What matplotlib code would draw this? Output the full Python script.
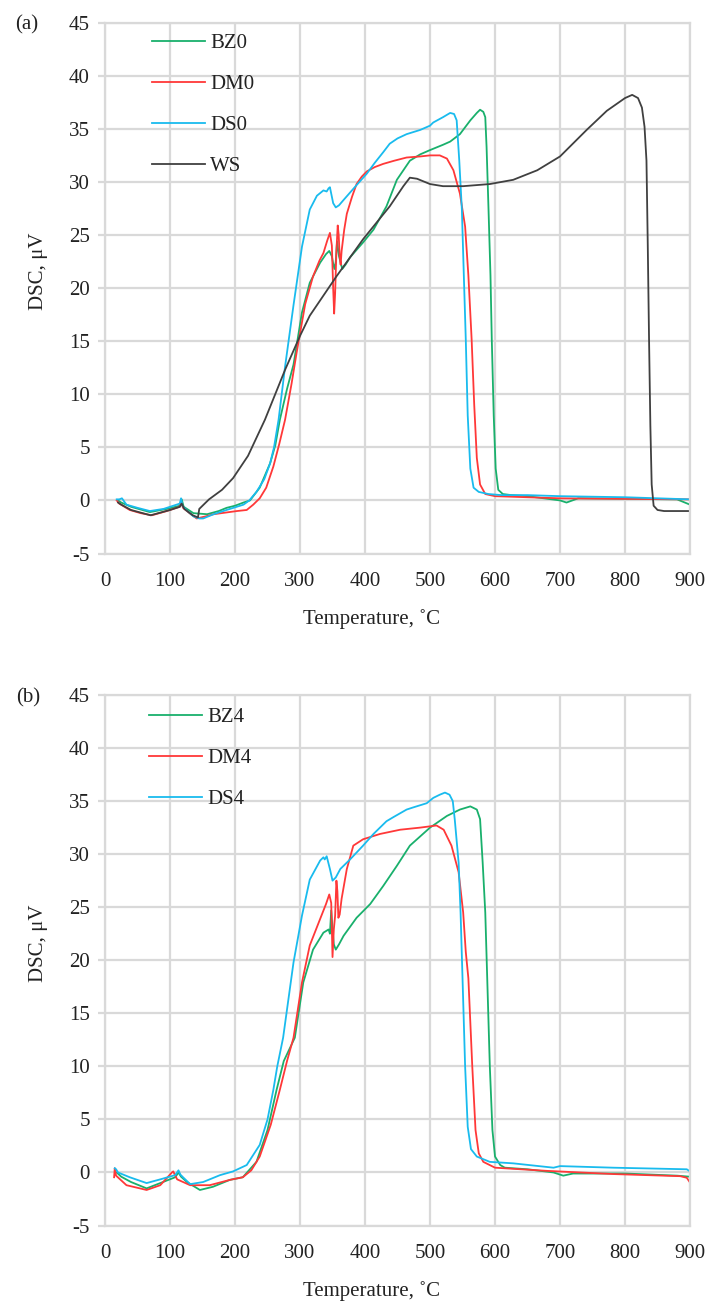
import matplotlib
matplotlib.use("Agg")
import matplotlib.pyplot as plt

plt.rcParams['font.family'] = ['Liberation Serif', 'DejaVu Serif']
plt.rcParams['axes.unicode_minus'] = False

# ---------------- data: panel (a) ----------------
BZ0_x = [20, 25, 40, 69, 95, 115, 118, 121, 136, 157, 175, 187, 200, 213, 223, 238, 254, 262, 269, 280,
         290, 303, 315, 331, 340, 345, 349, 351, 353, 355, 357, 360, 365, 370, 377, 387, 397, 413, 433, 449,
         469, 485, 500, 520, 531, 546, 562, 572, 577, 582, 585, 587, 590, 593, 595, 598, 601, 605, 612, 625,
         650, 700, 710, 728, 800, 880, 900]
BZ0_y = [0.0, -0.2, -0.6, -1.1, -0.8, -0.5, 0.1, -0.6, -1.2, -1.3, -1.0, -0.7, -0.5, -0.2, 0.0, 1.2, 3.5, 5.2, 7.6, 10.5,
         12.8, 17.7, 20.5, 22.4, 23.2, 23.5, 23.0, 22.3, 21.8, 22.5, 24.4, 23.0, 21.8, 22.2, 22.9, 23.6, 24.3, 25.5, 27.7, 30.2,
         32.0, 32.6, 33.0, 33.5, 33.8, 34.5, 35.8, 36.5, 36.8, 36.6, 36.1, 33.3, 27.4, 21.2, 15.2, 8.0, 3.0, 1.0, 0.6, 0.5,
         0.4, 0.0, -0.2, 0.2, 0.15, 0.1, -0.4]

DM0_x = [18, 22, 38, 55, 72, 95, 115, 117, 120, 130, 141, 155, 167, 185, 203, 218, 228, 238, 248, 259,
         268, 277, 287, 295, 308, 320, 330, 336, 342, 346, 349, 351, 352.5, 354, 356, 358, 359.5, 361, 362.5, 364,
         368, 372, 380, 387, 395, 403, 415, 428, 445, 464, 485, 500, 515, 526, 536, 546, 554, 559, 564, 568,
         572, 577, 585, 600, 650, 700, 800, 900]
DM0_y = [0.0, -0.3, -0.9, -1.2, -1.4, -1.0, -0.6, -0.1, -0.7, -1.2, -1.7, -1.5, -1.3, -1.15, -1.0, -0.9, -0.4, 0.2, 1.2, 3.2,
         5.3, 7.6, 11.0, 14.0, 18.5, 21.1, 22.6, 23.3, 24.5, 25.2, 24.0, 20.0, 17.6, 19.5, 23.5, 25.9, 25.0, 23.0, 22.2, 23.5,
         25.5, 27.0, 28.6, 29.8, 30.5, 31.0, 31.4, 31.7, 32.0, 32.3, 32.4, 32.5, 32.5, 32.2, 31.1, 28.9, 25.8, 21.2, 15.2, 9.0,
         4.0, 1.5, 0.6, 0.4, 0.3, 0.2, 0.15, 0.1]

DS0_x = [18, 22, 26, 33, 50, 69, 90, 115, 117, 119, 125, 136, 145, 151, 167, 187, 213, 222, 233, 245,
         254, 260, 267, 277, 290, 303, 315, 326, 336, 341, 344, 346, 349, 351, 355, 360, 367, 377, 387, 403,
         415, 428, 438, 450, 464, 485, 500, 505, 520, 531, 537, 541, 545, 549, 552, 555, 558, 562, 567, 575,
         590, 610, 650, 700, 750, 800, 850, 900]
DS0_y = [0.1, 0.1, 0.2, -0.4, -0.7, -1.0, -0.8, -0.3, 0.2, -0.5, -0.9, -1.5, -1.7, -1.7, -1.3, -0.9, -0.4, 0.0, 0.8, 2.0,
         3.5, 5.0, 7.6, 12.6, 18.4, 23.9, 27.4, 28.7, 29.2, 29.1, 29.4, 29.5, 28.6, 28.0, 27.6, 27.8, 28.3, 29.0, 29.7, 30.8,
         31.8, 32.8, 33.6, 34.1, 34.5, 34.9, 35.3, 35.6, 36.1, 36.5, 36.4, 35.8, 32.0, 27.4, 21.2, 15.2, 8.0, 3.0, 1.2, 0.8,
         0.6, 0.5, 0.5, 0.4, 0.35, 0.3, 0.2, 0.1]

WS_x = [20, 25, 40, 70, 100, 115, 118, 122, 135, 143, 145, 160, 180, 197, 220, 246, 277, 300, 315, 356,
        397, 438, 459, 469, 480, 500, 520, 551, 592, 628, 665, 700, 741, 772, 800, 811, 820, 826, 830, 833,
        835, 837, 839, 841, 844, 850, 860, 900]
WS_y = [-0.2, -0.4, -0.9, -1.4, -0.9, -0.6, -0.3, -0.8, -1.4, -1.6, -0.8, 0.1, 1.0, 2.1, 4.2, 7.6, 12.3, 15.5, 17.4, 21.1,
        24.6, 27.7, 29.6, 30.4, 30.3, 29.8, 29.6, 29.6, 29.8, 30.2, 31.1, 32.4, 34.9, 36.7, 37.9, 38.2, 37.9, 37.0, 35.2, 32.0,
        24.0, 15.0, 7.0, 1.5, -0.5, -0.9, -1.0, -1.0]

# ---------------- data: panel (b) ----------------
BZ4_x = [18, 25, 40, 64, 85, 108, 113, 117, 126, 146, 166, 192, 212, 233, 250, 264, 275, 292, 305, 320,
         336, 344, 346, 348, 350, 352, 355, 360, 367, 387, 408, 428, 449, 469, 500, 526, 546, 562, 572, 577,
         581, 585, 588, 592, 596, 600, 608, 615, 650, 690, 705, 720, 800, 880, 900]
BZ4_y = [0.0, -0.4, -0.9, -1.5, -1.0, -0.45, 0.0, -0.4, -0.9, -1.65, -1.35, -0.7, -0.45, 1.0, 4.0, 7.8, 10.5, 12.7, 17.9, 21.0,
         22.6, 22.9, 22.5, 24.7, 23.0, 21.5, 21.0, 21.5, 22.3, 24.0, 25.3, 27.0, 28.9, 30.8, 32.5, 33.6, 34.2, 34.5, 34.2, 33.3,
         29.2, 24.5, 18.3, 10.0, 4.0, 1.5, 0.7, 0.45, 0.3, 0.0, -0.3, -0.1, -0.1, -0.3, -0.4]

DM4_x = [14, 15, 17, 33, 64, 85, 103, 105, 108, 111, 131, 161, 192, 212, 225, 238, 255, 269, 280, 290,
         303, 315, 331, 340, 345, 348, 350, 352, 354, 356, 357.5, 359, 361, 364, 368, 372, 382, 397, 423, 454,
         485, 510, 521, 533, 544, 551, 555, 559, 565, 570, 575, 582, 600, 680, 782, 885, 895, 900]
DM4_y = [-0.45, 0.4, -0.3, -1.2, -1.65, -1.2, 0.0, 0.1, -0.3, -0.65, -1.2, -1.2, -0.7, -0.45, 0.2, 1.5, 4.5, 7.8, 10.5, 12.7,
         17.9, 21.4, 23.9, 25.3, 26.2, 25.4, 20.3, 22.9, 24.2, 27.5, 26.5, 24.0, 24.3, 25.8, 27.2, 28.6, 30.8, 31.4, 31.9, 32.3,
         32.5, 32.7, 32.3, 30.8, 28.3, 24.5, 20.8, 18.3, 10.0, 4.0, 1.8, 1.0, 0.45, 0.15, -0.15, -0.35, -0.5, -0.95]

DS4_x = [15, 17, 20, 38, 64, 85, 108, 113, 116, 120, 131, 151, 177, 197, 218, 238, 250, 259, 265, 274,
         290, 303, 315, 331, 336, 338, 341, 346, 350, 355, 362, 377, 397, 413, 433, 444, 464, 474, 495, 505,
         515, 523, 530, 535, 538, 544, 547, 550, 554, 558, 563, 572, 592, 628, 690, 700, 782, 895, 900]
DS4_y = [0.4, 0.3, 0.0, -0.45, -1.0, -0.65, -0.25, 0.2, -0.2, -0.45, -1.1, -0.9, -0.25, 0.1, 0.7, 2.6, 5.0, 7.8, 10.0, 12.7,
         19.8, 24.2, 27.6, 29.4, 29.7, 29.5, 29.8, 28.6, 27.5, 27.8, 28.6, 29.5, 30.8, 31.9, 33.1, 33.5, 34.2, 34.4, 34.8, 35.3,
         35.6, 35.8, 35.6, 35.0, 33.3, 29.2, 24.5, 18.3, 10.0, 4.3, 2.2, 1.5, 1.0, 0.86, 0.45, 0.6, 0.45, 0.3, 0.1]

x_ticks = [0, 100, 200, 300, 400, 500, 600, 700, 800, 900]
y_ticks = [-5, 0, 5, 10, 15, 20, 25, 30, 35, 40, 45]

GREEN = '#19b06c'
RED = '#ff3838'
CYAN = '#19bbee'
BLACK = '#404040'
GRID = '#d9d9d9'
FS = 15

fig = plt.figure(figsize=(7.11, 13.11), dpi=100)
ax1 = fig.add_axes([0.1477, 0.5778, 0.8228, 0.4049])
ax2 = fig.add_axes([0.1477, 0.0652, 0.8228, 0.4047])


def style(ax):
    ax.set_xlim(0, 900)
    ax.set_ylim(-5, 45)
    ax.set_xticks(x_ticks)
    ax.set_yticks(y_ticks)
    ax.grid(True, color=GRID, lw=1.6)
    ax.set_axisbelow(True)
    for s in ax.spines.values():
        s.set_color(GRID)
        s.set_linewidth(1.6)
    ax.tick_params(axis='y', length=5, width=1.6, color=GRID, pad=6, labelsize=FS, labelcolor='#222222')
    ax.tick_params(axis='x', length=0, pad=13, labelsize=FS, labelcolor='#222222')
    ax.set_xlabel('Temperature, ˚C', fontsize=FS, color='#222222')
    ax.xaxis.set_label_coords(0.455, -0.104)
    ax.set_ylabel('DSC, μV', fontsize=FS, color='#222222')
    ax.yaxis.set_label_coords(-0.1145, 0.532)
    ax.yaxis.label.set_va('center')


style(ax1)
style(ax2)

LW = 1.3
ax1.plot(BZ0_x, BZ0_y, color=GREEN, lw=LW, label='BZ0')
ax1.plot(DM0_x, DM0_y, color=RED, lw=LW, label='DM0')
ax1.plot(DS0_x, DS0_y, color=CYAN, lw=LW, label='DS0')
ax1.plot(WS_x, WS_y, color=BLACK, lw=LW, label='WS')

ax2.plot(BZ4_x, BZ4_y, color=GREEN, lw=LW, label='BZ4')
ax2.plot(DM4_x, DM4_y, color=RED, lw=LW, label='DM4')
ax2.plot(DS4_x, DS4_y, color=CYAN, lw=LW, label='DS4')

for ax, bx, by in ((ax1, 0.080, 0.979), (ax2, 0.075, 0.976)):
    leg = ax.legend(loc='upper left', bbox_to_anchor=(bx, by), frameon=False, fontsize=FS,
                    handlelength=2.55, handletextpad=0.24, labelspacing=1.02,
                    borderpad=0, borderaxespad=0)
    for t in leg.get_texts():
        t.set_color('#222222')

fig.text(0.021, 0.981, '(a)', fontsize=FS, ha='left', va='center', color='#222222')
fig.text(0.023, 0.4676, '(b)', fontsize=FS, ha='left', va='center', color='#222222')

fig.savefig('out.png', dpi=100)
